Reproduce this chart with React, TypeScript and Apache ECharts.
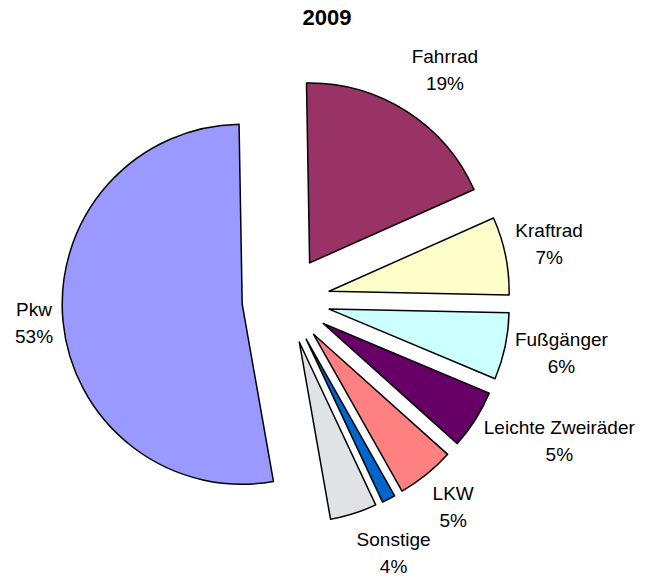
import React, { useEffect, useRef } from "react";
import * as echarts from "echarts";

const titleText = "2009";
const categories = [
  "Fahrrad",
  "Kraftrad",
  "Fußgänger",
  "Leichte Zweiräder",
  "LKW",
  "Bus",
  "Sonstige",
  "Pkw",
];
const values = [18.6, 7.0, 6.0, 5.3, 5.2, 1.2, 4.2, 52.5];
const showLabel = [true, true, true, true, true, false, true, true];
const colors = [
  "#993366",
  "#FFFFCC",
  "#CCFFFF",
  "#660066",
  "#FF8080",
  "#0066CC",
  "#DFE3E6",
  "#9999FF",
];

const CX = 286;
const CY = 300;
const R = 180;
const OFFSET = 44;
const START_ANGLE = 91; // echarts degrees (90 = 12 o'clock)
const GAP_X = 10;
const GAP_Y = 45;
const FONT = "'Liberation Sans', Arial, sans-serif";

export default function App() {
  const ref = useRef<HTMLDivElement>(null);
  useEffect(() => {
    if (!ref.current) return;
    const chart = echarts.init(ref.current, undefined, { renderer: "svg" });
    const total = values.reduce((a, b) => a + b, 0);
    const cum: number[] = [];
    values.reduce((acc, v, i) => {
      cum[i] = acc;
      return acc + v;
    }, 0);
    const startCW = 90 - START_ANGLE;
    const dir = (i: number) => {
      const mid = ((startCW + ((cum[i] + values[i] / 2) / total) * 360) * Math.PI) / 180;
      return [Math.sin(mid), -Math.cos(mid)];
    };

    const series = categories.map((_, s) => {
      const [nx, ny] = dir(s);
      return {
        type: "pie",
        center: [CX + OFFSET * nx, CY + OFFSET * ny],
        radius: R,
        startAngle: START_ANGLE,
        clockwise: true,
        avoidLabelOverlap: false,
        percentPrecision: 0,
        silent: true,
        emphasis: { disabled: true },
        label: {
          show: true,
          position: "outside",
          formatter: "{b}\n{d}%",
          fontSize: 19,
          lineHeight: 27,
          color: "#000",
          fontFamily: FONT,
        },
        labelLine: { show: false, length: 0, length2: 0 },
        labelLayout: (params: any) => {
          const i = params.dataIndex;
          const [mx, my] = dir(i);
          const px = CX + (OFFSET + R) * mx;
          const py = CY + (OFFSET + R) * my;
          const w = params.labelRect.width;
          const x = mx >= 0 ? px + mx * GAP_X + w / 2 : px + mx * GAP_X - w / 2;
          const y = py + my * GAP_Y - 3;
          return { x, y, align: "center", verticalAlign: "middle" };
        },
        data: categories.map((name, i) => ({
          name,
          value: values[i],
          itemStyle:
            i === s
              ? { color: colors[i], borderColor: "#000", borderWidth: 1.5 }
              : { color: "rgba(0,0,0,0)", borderWidth: 0 },
          label: { show: i === s && showLabel[i] },
        })),
      };
    });

    chart.setOption({
      animation: false,
      backgroundColor: "#ffffff",
      title: {
        text: titleText,
        left: "center",
        top: 1,
        textStyle: { fontSize: 22, fontWeight: "bold", color: "#000", fontFamily: FONT },
      },
      series,
    });
    return () => chart.dispose();
  }, []);
  return (
    <div
      ref={ref}
      style={{ position: "absolute", left: 0, top: 0, width: 654, height: 578 }}
    />
  );
}
